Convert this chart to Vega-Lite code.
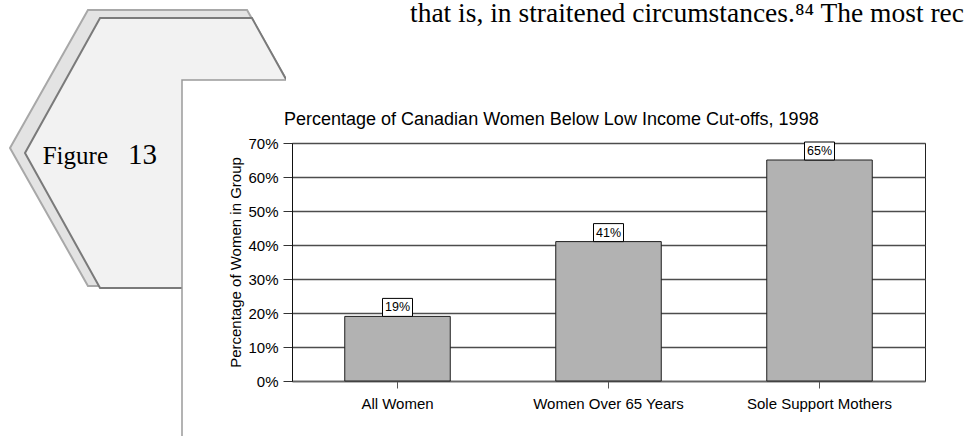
{
  "$schema": "https://vega.github.io/schema/vega-lite/v6.json",
  "padding": 0,
  "spacing": -58,
  "config": {
    "font": "Liberation Sans",
    "view": {"stroke": "#222222", "strokeWidth": 1}
  },
  "hconcat": [
    {
      "width": 286,
      "height": 436,
      "view": {"stroke": null},
      "data": {"values": [{"label": "Figure", "num": "13"}]},
      "layer": [
        {"mark": {"type": "point", "shape": "M-1,0L-0.505,-0.876L0.505,-0.876L1,0L0.505,0.876L-0.505,0.876Z", "size": 99225, "filled": true, "fill": "#e3e3e3", "stroke": "#a8a8a8", "strokeWidth": 2, "opacity": 1, "xOffset": 24.5, "yOffset": -71, "clip": true}},
        {"mark": {"type": "point", "shape": "M-1,0L-0.503,-0.894L0.503,-0.894L1,0L0.503,0.894L-0.503,0.894Z", "size": 91204, "filled": true, "fill": "#f2f2f2", "stroke": "#7a7a7a", "strokeWidth": 2, "opacity": 1, "xOffset": 33, "yOffset": -66, "clip": true}},
        {"mark": {"type": "point", "shape": "M0,0L1,0L1,1L0,1Z", "size": 2560000, "filled": true, "fill": "white", "stroke": "#9a9a9a", "strokeWidth": 1.5, "opacity": 1, "xOffset": 39, "yOffset": -139, "clip": true}},
        {"mark": {"type": "text", "font": "Liberation Serif", "fontSize": 25, "align": "right", "baseline": "alphabetic", "dx": -35, "dy": -55, "color": "black"}, "encoding": {"text": {"field": "label"}}},
        {"mark": {"type": "text", "font": "Liberation Serif", "fontSize": 29, "align": "left", "baseline": "alphabetic", "dx": -15, "dy": -55, "color": "black"}, "encoding": {"text": {"field": "num"}}}
      ]
    },
    {
      "spacing": 67,
      "vconcat": [
        {
          "width": 236,
          "height": 42,
          "view": {"stroke": null},
          "data": {"values": [{"text": "that is, in straitened circumstances.⁸⁴  The most rec"}]},
          "mark": {"type": "text", "font": "Liberation Serif", "fontSize": 27.5, "align": "left", "baseline": "alphabetic", "color": "black"},
          "encoding": {"text": {"field": "text"}}
        },
        {
          "width": 633,
          "height": 238,
          "title": {"text": "Percentage of Canadian Women Below Low Income Cut-offs, 1998", "anchor": "start", "frame": "group", "dx": -8, "fontSize": 18, "fontWeight": "normal", "font": "Liberation Sans", "color": "black", "offset": 7.5},
          "data": {"values": [
            {"group": "All Women", "pct": 0.19},
            {"group": "Women Over 65 Years", "pct": 0.41},
            {"group": "Sole Support Mothers", "pct": 0.65}
          ]},
          "encoding": {
            "x": {"field": "group", "type": "nominal", "sort": null, "title": null,
                  "scale": {"paddingInner": 0.5, "paddingOuter": 0.25},
                  "axis": {"labelAngle": 0, "labelFontSize": 15, "labelColor": "black", "labelPadding": 8, "tickSize": 7, "tickColor": "#555555", "domainColor": "#666666", "domainWidth": 1.5, "grid": false}},
            "y": {"field": "pct", "type": "quantitative",
                  "scale": {"domain": [0, 0.7], "nice": false},
                  "axis": {"title": "Percentage of Women in Group", "values": [0, 0.1, 0.2, 0.3, 0.4, 0.5, 0.6, 0.7], "format": ".0%", "labelFontSize": 15, "labelColor": "black", "labelPadding": 5, "tickSize": 9, "tickColor": "#333333", "domainColor": "#111111", "titleFontSize": 15, "titleFontWeight": "normal", "titleColor": "black", "titlePadding": 4, "grid": true, "gridColor": "#4d4d4d", "gridWidth": 1.3}}
          },
          "layer": [
            {"mark": {"type": "bar", "fill": "#b2b2b2", "stroke": "#1e1e1e", "strokeWidth": 1}},
            {"mark": {"type": "point", "shape": "M-1,-0.6L1,-0.6L1,0.6L-1,0.6Z", "size": 900, "filled": true, "fill": "white", "stroke": "black", "strokeWidth": 1, "opacity": 1, "yOffset": -9}},
            {"mark": {"type": "text", "fontSize": 12.5, "baseline": "middle", "yOffset": -9, "color": "black"}, "encoding": {"text": {"field": "pct", "type": "quantitative", "format": ".0%"}}}
          ]
        }
      ]
    }
  ]
}
